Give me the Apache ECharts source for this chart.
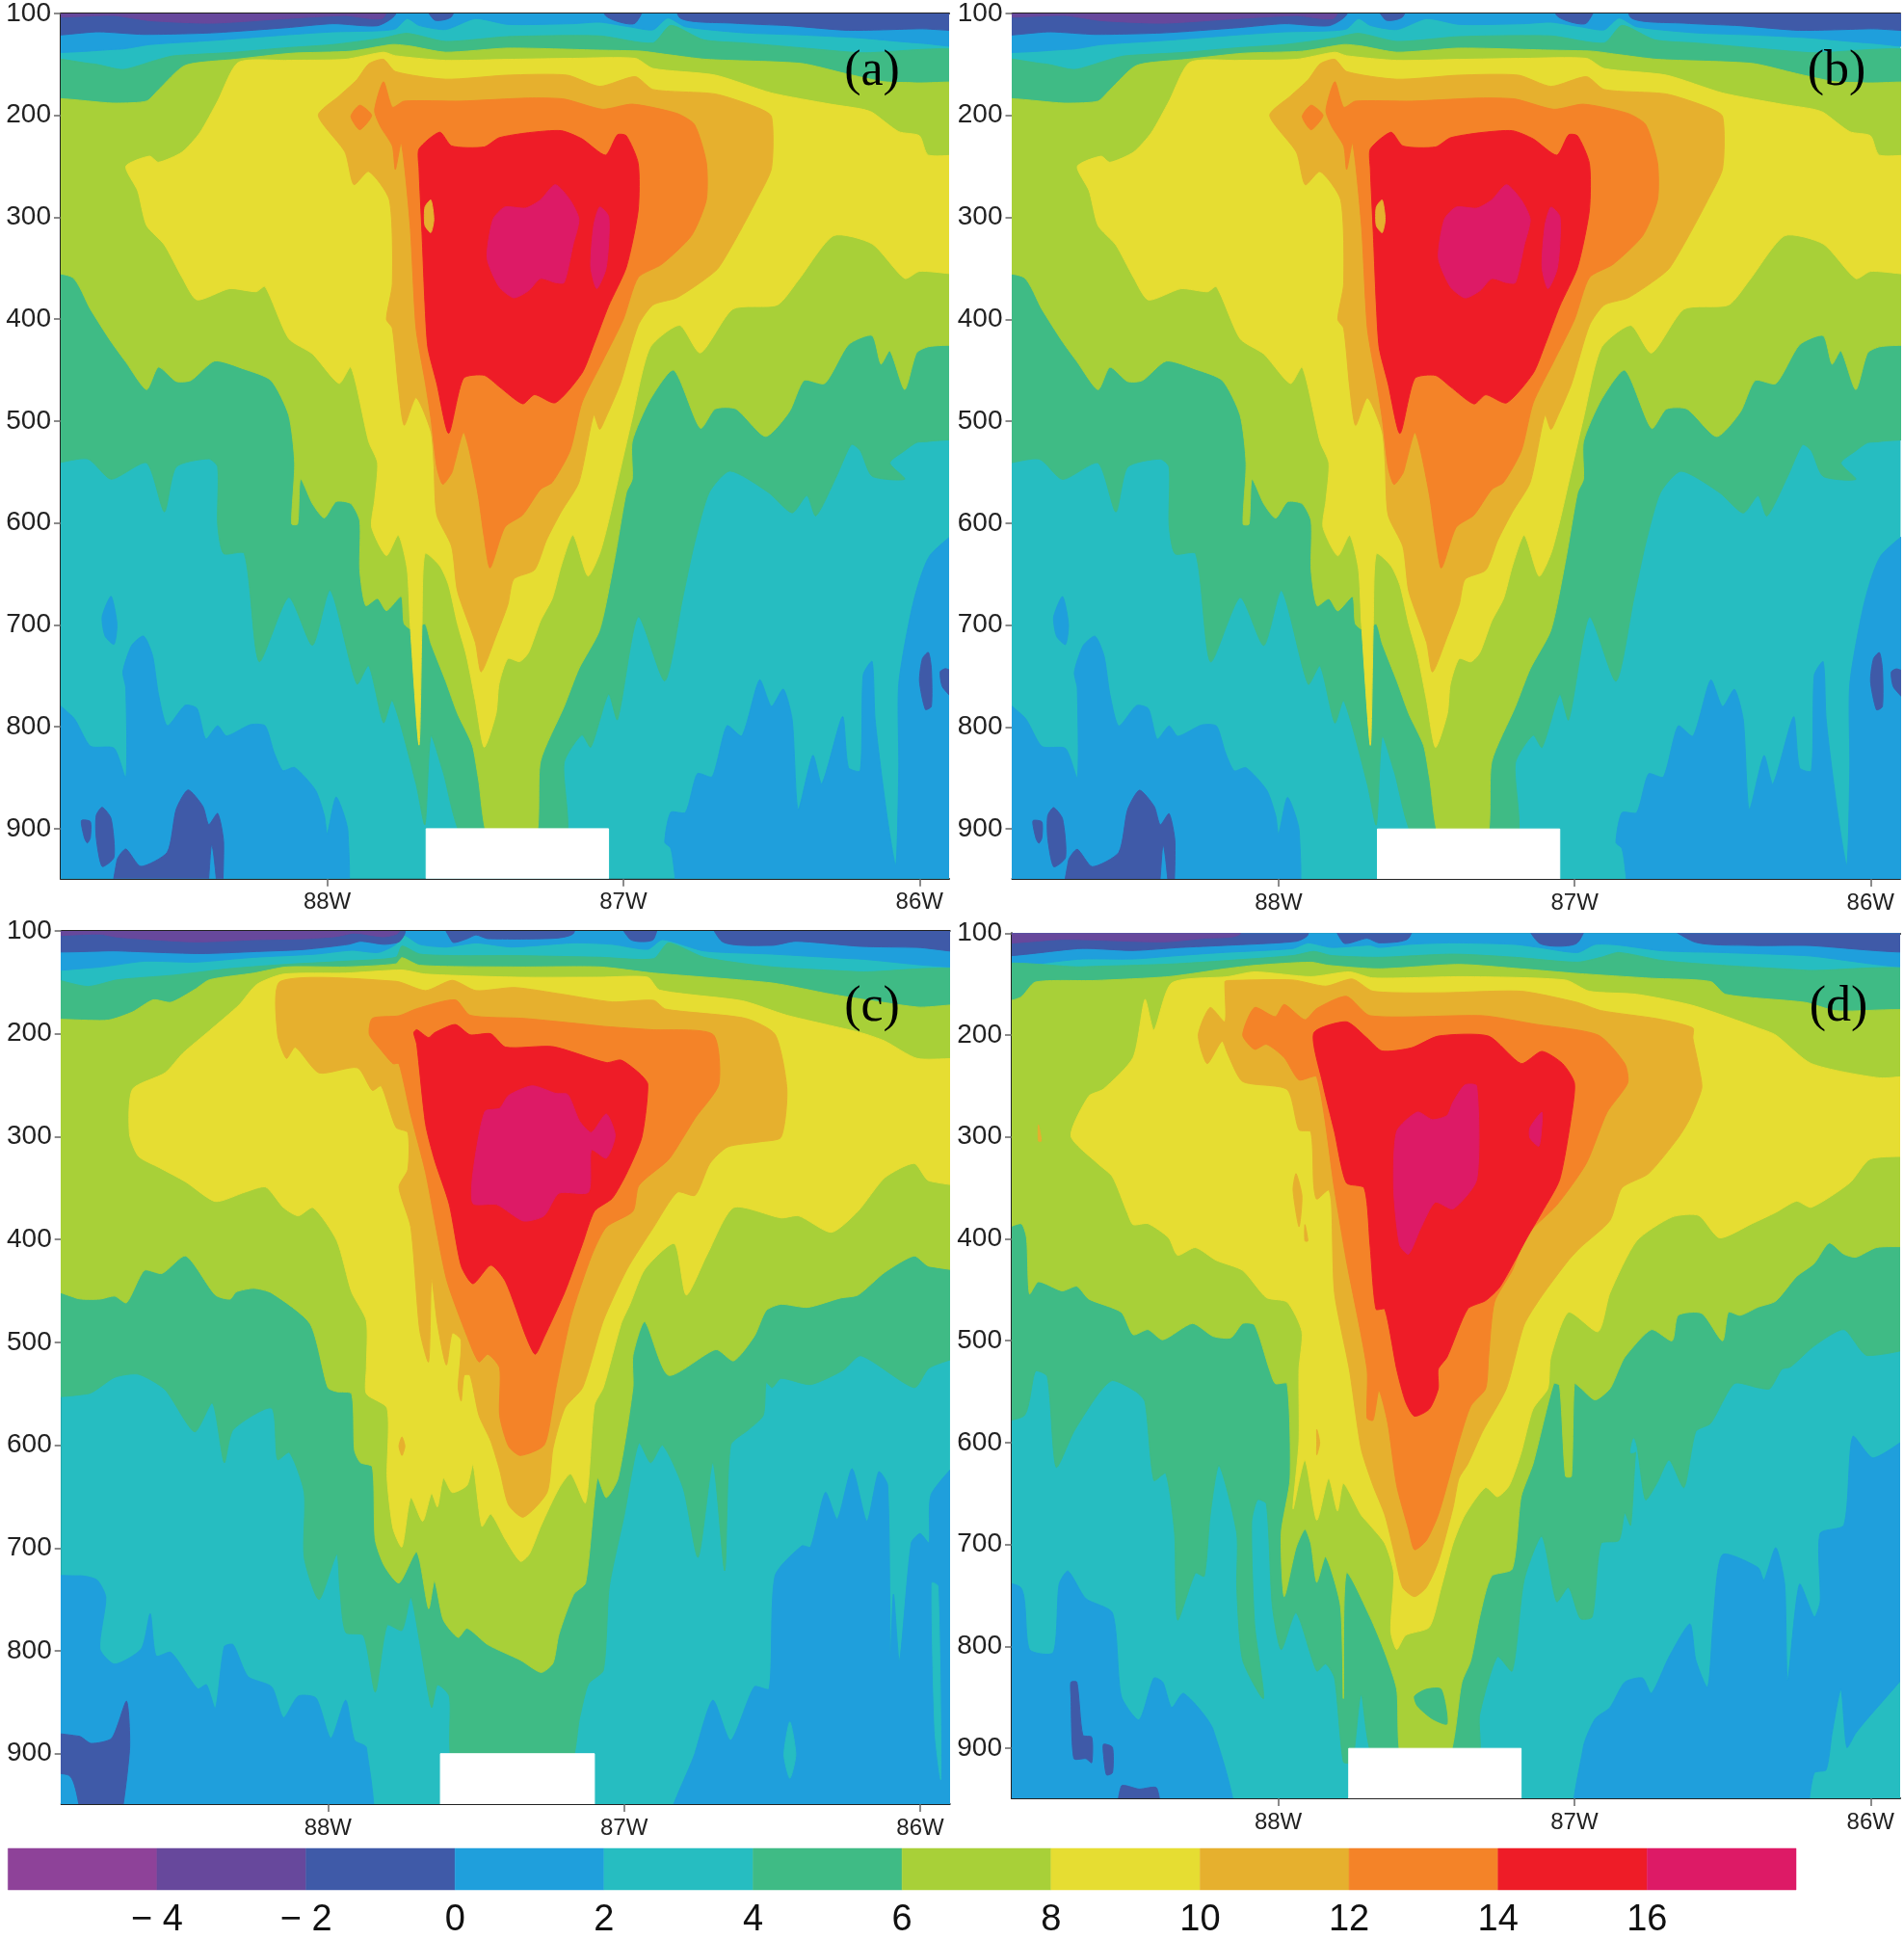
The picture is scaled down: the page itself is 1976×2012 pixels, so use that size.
<!DOCTYPE html>
<html><head><meta charset="utf-8"><style>html,body{margin:0;padding:0;background:#fff}#c{width:1976px;height:2012px}</style>
<script src="https://cdn.jsdelivr.net/npm/echarts@6/dist/echarts.min.js"></script></head><body><div id="c"></div><script>
const lonTicks=[-88,-87,-86];
const pTicks=[100,200,300,400,500,600,700,800,900];
const legendLevels=[-6,-4,-2,0,2,4,6,8,10,12,14,16,18];
const legendTicks=[-4,-2,0,2,4,6,8,10,12,14,16];
const bandColors={'-6':'#8e4299','-4':'#67489c','-2':'#3f5aa8','0':'#1f9fdc','2':'#26bdc1','4':'#3fbb85','6':'#a8d038','8':'#e6dd32','10':'#e6b02e','12':'#f48328','14':'#ee1c27','16':'#dd1a66','99':'#ffffff'};
const panelNames=['(a)','(b)','(c)','(d)'];

// ---------- panels (a) and (b): contour outlines as [longitude, pressure]
const A_purple=[[-88.9,100],[-88.9,101],[-88.72,102],[-88.6,107],[-88.39,109.5],[-88.14,105],[-87.94,102],[-87.81,104],[-87.79,100]];
const A_dark1=[[-88.9,100],[-88.9,119.5],[-88.77,118],[-88.62,120.5],[-88.39,119],[-88.14,114],[-87.98,110],[-87.83,112],[-87.77,101],[-87.75,100]];
const A_dark2=[[-87.72,100],[-87.64,106],[-87.58,103],[-87.54,100]];
const A_dark3=[[-87.09,100],[-87.06,102],[-86.96,109.5],[-86.9,100]];
const A_dark4=[[-86.81,100],[-86.81,104],[-86.63,109.5],[-86.44,112],[-86.24,116.5],[-86,115],[-85.9,114],[-85.9,100]];
const A_blueTop=[[-88.9,100],[-88.9,133.7],[-88.7,135],[-88.6,130.5],[-88.39,126.5],[-88.14,121],[-87.98,118],[-87.83,117],[-87.77,115],[-87.73,105],[-87.69,111.7],[-87.6,115.7],[-87.5,105],[-87.39,110.7],[-87.17,110],[-87.08,108.5],[-86.98,113],[-86.9,116],[-86.85,104.4],[-86.79,113],[-86.59,119],[-86.4,121],[-86.2,124],[-86,129],[-85.9,130.5],[-85.9,100]];
const A_blueLeft=[[-88.9,757],[-88.86,790],[-88.8,819],[-88.72,821],[-88.68,850],[-88.68,762],[-88.69,746],[-88.66,720],[-88.62,711],[-88.59,730],[-88.57,768],[-88.54,799],[-88.48,779],[-88.44,782],[-88.41,812],[-88.37,799],[-88.34,809],[-88.26,798],[-88.21,799],[-88.18,825],[-88.15,843],[-88.11,840],[-88.04,862],[-88.01,887],[-88,905],[-87.97,869],[-87.93,903],[-87.96,949],[-88.9,949]];
const A_blueSpot=[[-88.73,672],[-88.71,699],[-88.72,719],[-88.75,711],[-88.76,692]];
const A_blueRight=[[-86.78,949],[-86.84,919],[-86.86,900],[-86.84,884],[-86.79,884],[-86.75,846],[-86.7,849],[-86.65,799],[-86.6,809],[-86.54,754],[-86.5,780],[-86.46,763],[-86.43,793],[-86.41,881],[-86.36,828],[-86.33,856],[-86.26,790],[-86.24,840],[-86.2,843],[-86.19,749],[-86.16,736],[-86.15,793],[-86.11,887],[-86.08,936],[-86.07,840],[-86.07,758],[-86.02,677],[-85.96,630],[-85.9,595],[-85.9,949]];
const A_darkR1=[[-85.99,733],[-85.97,727],[-85.96,743],[-85.96,780],[-85.98,783],[-86,755]];
const A_darkR2=[[-85.93,746],[-85.91,743],[-85.9,762],[-85.9,803],[-85.92,762]];
const A_darkL1=[[-88.83,892],[-88.8,893],[-88.8,909],[-88.81,914],[-88.82,909]];
const A_darkL2=[[-88.78,887],[-88.76,879],[-88.73,890],[-88.72,928],[-88.76,937],[-88.78,909]];
const A_darkL3=[[-88.72,949],[-88.71,931],[-88.68,920],[-88.63,937],[-88.54,923],[-88.51,881],[-88.47,862],[-88.42,878],[-88.4,896],[-88.37,885],[-88.35,900],[-88.36,949],[-88.39,916],[-88.43,949]];
const A_ge4=[[-88.9,148.5],[-88.79,149.5],[-88.69,155],[-88.58,146],[-88.52,141.6],[-88.33,138.4],[-88.14,133.7],[-87.98,130.5],[-87.81,124],[-87.73,119.5],[-87.6,127.4],[-87.39,122.7],[-87.08,122],[-86.9,129],[-86.84,111.7],[-86.73,125.8],[-86.59,129],[-86.4,133.7],[-86.21,138.4],[-85.9,146],[-85.9,508],[-85.97,520],[-86.01,521],[-86.05,529],[-86.1,541],[-86.05,557],[-86.16,554],[-86.2,529],[-86.23,523],[-86.28,554],[-86.35,593],[-86.38,573],[-86.43,590],[-86.51,570],[-86.64,549],[-86.71,570],[-86.76,620],[-86.8,674],[-86.86,755],[-86.95,692],[-87.02,793],[-87.05,768],[-87.11,820],[-87.14,808],[-87.2,835],[-87.2,900],[-87.53,900],[-87.61,843],[-87.65,809],[-87.67,896],[-87.7,856],[-87.78,774],[-87.81,796],[-87.86,740],[-87.9,758],[-87.99,666],[-88.05,720],[-88.13,673],[-88.23,736],[-88.28,630],[-88.35,630],[-88.37,601],[-88.37,545],[-88.4,537],[-88.51,545],[-88.55,589],[-88.61,541],[-88.73,557],[-88.81,537],[-88.9,541]];
const A_ge6=[[-88.9,189],[-88.71,188],[-88.61,186],[-88.57,175],[-88.48,151],[-88.31,145],[-88.12,139],[-87.92,137],[-87.78,130.5],[-87.72,132],[-87.6,138],[-87.39,134],[-87.08,136],[-86.94,137],[-86.86,140],[-86.72,145],[-86.4,149],[-86.25,159],[-86.12,167],[-86.02,168],[-85.9,175],[-85.9,417],[-85.97,427],[-86.01,433],[-86.05,469],[-86.1,431],[-86.13,444],[-86.16,416],[-86.24,425],[-86.32,463],[-86.39,460],[-86.44,491],[-86.52,515],[-86.62,488],[-86.69,488],[-86.74,507],[-86.83,450],[-86.91,479],[-86.97,520],[-86.97,557],[-86.99,570],[-87.03,636],[-87.08,705],[-87.15,743],[-87.2,780],[-87.28,834],[-87.3,900],[-87.45,900],[-87.49,850],[-87.51,818],[-87.56,787],[-87.6,755],[-87.65,718],[-87.67,699],[-87.71,705],[-87.74,699],[-87.75,672],[-87.8,686],[-87.83,674],[-87.87,681],[-87.89,646],[-87.89,598],[-87.92,581],[-87.97,579],[-88.01,595],[-88.05,581],[-88.09,557],[-88.1,601],[-88.12,601],[-88.11,541],[-88.13,494],[-88.19,460],[-88.28,449],[-88.38,441],[-88.46,460],[-88.51,461],[-88.57,447],[-88.61,469],[-88.68,442],[-88.73,422],[-88.8,390],[-88.86,359],[-88.9,345]];
const A_ge8=[[-88.3,148],[-88.14,146],[-87.94,145],[-87.81,138],[-87.77,141.5],[-87.6,146],[-87.39,145],[-87.17,144],[-86.96,144],[-86.9,154],[-86.69,160.5],[-86.5,178],[-86.3,189],[-86.2,193.5],[-86.16,197],[-86.07,216],[-86,220],[-85.97,239],[-85.9,242],[-85.9,353],[-86,353],[-86.05,360],[-86.16,326],[-86.29,318],[-86.41,362],[-86.48,386],[-86.63,390],[-86.74,433],[-86.81,406],[-86.91,428],[-86.97,497],[-87.02,560],[-87.05,598],[-87.08,630],[-87.12,652],[-87.17,612],[-87.21,642],[-87.24,674],[-87.28,696],[-87.32,727],[-87.35,736],[-87.39,733],[-87.42,758],[-87.43,787],[-87.47,820],[-87.5,774],[-87.53,730],[-87.56,699],[-87.59,661],[-87.62,642],[-87.67,630],[-87.68,699],[-87.69,818],[-87.72,699],[-87.73,645],[-87.76,612],[-87.8,632],[-87.85,604],[-87.84,578],[-87.83,541],[-87.86,520],[-87.92,447],[-87.96,463],[-88.05,434],[-88.13,419],[-88.21,368],[-88.24,373],[-88.33,370],[-88.44,381],[-88.49,359],[-88.55,327],[-88.61,308],[-88.64,274],[-88.68,250],[-88.6,240],[-88.57,246],[-88.49,236],[-88.43,217],[-88.37,186]];
const A_ge10=[[-88.03,200],[-87.96,181],[-87.9,165],[-87.86,149.5],[-87.81,145],[-87.77,157],[-87.6,164.5],[-87.39,160.5],[-87.19,160.5],[-87.08,171.5],[-86.96,162],[-86.9,174.6],[-86.69,179],[-86.55,192],[-86.5,201],[-86.5,252],[-86.55,283],[-86.62,321],[-86.68,350],[-86.73,362],[-86.82,379],[-86.9,386],[-86.95,406],[-87.01,463],[-87.06,497],[-87.08,508],[-87.1,494],[-87.15,560],[-87.21,589],[-87.26,617],[-87.3,646],[-87.37,655],[-87.39,680],[-87.43,711],[-87.48,746],[-87.5,717],[-87.56,667],[-87.58,623],[-87.63,592],[-87.64,541],[-87.65,510],[-87.7,477],[-87.74,504],[-87.76,466],[-87.78,409],[-87.8,400],[-87.78,365],[-87.79,283],[-87.86,255],[-87.91,268],[-87.94,236]];
const A_ge12=[[-87.81,167],[-87.78,192],[-87.74,186],[-87.55,186],[-87.32,183],[-87.2,184],[-87.07,194],[-86.97,189],[-86.82,198],[-86.76,209],[-86.72,246],[-86.72,283],[-86.77,318],[-86.87,346],[-86.95,359],[-87,400],[-87.07,441],[-87.14,482],[-87.18,529],[-87.24,560],[-87.28,567],[-87.34,592],[-87.4,604],[-87.45,644],[-87.47,614],[-87.49,573],[-87.52,529],[-87.54,511],[-87.57,541],[-87.58,551],[-87.61,562],[-87.63,545],[-87.65,497],[-87.67,460],[-87.7,409],[-87.72,308],[-87.75,227],[-87.77,253],[-87.78,230],[-87.82,211],[-87.84,195]];
const A_ge12Spot=[[-87.92,201],[-87.89,190],[-87.85,200],[-87.89,214]];
const A_ge14=[[-87.69,233],[-87.62,216.5],[-87.58,230],[-87.47,231],[-87.42,222],[-87.32,217],[-87.21,215],[-87.14,223],[-87.06,239],[-87.02,219],[-86.99,220],[-86.95,247],[-86.95,293],[-86.99,349],[-87.05,387],[-87.1,425],[-87.14,453],[-87.23,482],[-87.3,474],[-87.34,483],[-87.42,466],[-87.47,455],[-87.54,458],[-87.59,512],[-87.63,463],[-87.66,428],[-87.67,384],[-87.68,315],[-87.69,252]];
const A_ge10Spot=[[-87.67,290],[-87.65,283],[-87.64,302],[-87.65,315],[-87.67,308]];
const A_ge16=[[-87.23,268],[-87.18,283],[-87.15,302],[-87.17,327],[-87.2,364],[-87.23,364],[-87.28,360],[-87.32,372],[-87.37,379],[-87.42,368],[-87.46,340],[-87.44,302],[-87.4,290],[-87.33,291],[-87.28,283]];
const A_ge16Side=[[-87.08,290],[-87.05,299],[-87.05,327],[-87.06,352],[-87.09,370],[-87.11,349],[-87.1,308]];
const A_terrain=[[-87.666,900],[-87.05,900],[-87.05,949],[-87.666,949]];

// ---------- panel (c)
const C_purple=[[-88.9,100],[-88.9,102],[-88.77,103],[-88.71,106],[-88.45,110.6],[-88.24,108.4],[-88.08,107.5],[-87.97,105.3],[-87.91,102],[-87.81,105.6],[-87.76,101],[-87.76,100]];
const C_dark1=[[-88.9,100],[-88.9,116],[-88.71,119.4],[-88.43,122],[-88.24,120],[-88.08,118],[-87.93,113],[-87.89,110],[-87.81,113],[-87.76,110.6],[-87.74,102],[-87.73,100]];
const C_dark2=[[-87.64,100],[-87.58,110.6],[-87.53,107.5],[-87.5,103.8],[-87.46,107.5],[-87.23,107],[-87.17,102],[-87.15,100]];
const C_dark3=[[-87.06,100],[-86.98,108],[-86.9,108],[-86.88,100]];
const C_dark4=[[-86.73,100],[-86.67,110],[-86.5,114],[-86.42,110],[-86.2,115],[-86.01,116],[-85.9,119],[-85.9,100]];
const C_blueTop=[[-88.9,100],[-88.9,135],[-88.79,135.6],[-88.62,129.4],[-88.45,130.3],[-88.25,125.6],[-88.04,122.5],[-87.92,118.8],[-87.83,120.9],[-87.77,113],[-87.75,103],[-87.69,113],[-87.6,115.6],[-87.5,111.6],[-87.38,115.6],[-87.17,111.6],[-87.04,113],[-86.92,117.8],[-86.87,108.4],[-86.73,119.4],[-86.5,122.5],[-86.21,127.2],[-85.9,132],[-85.9,100]];
const C_blueLeft=[[-88.9,734],[-88.84,727],[-88.78,731],[-88.75,748],[-88.77,798],[-88.72,813],[-88.63,798],[-88.6,764],[-88.58,805],[-88.53,801.5],[-88.44,837],[-88.41,833],[-88.38,856],[-88.35,796],[-88.32,794],[-88.27,825],[-88.19,835],[-88.15,865],[-88.1,844],[-88.04,846],[-87.99,885],[-87.94,848],[-87.91,887],[-87.87,894],[-87.87,949],[-88.9,949]];
const C_darkLeft=[[-88.9,881],[-88.84,883],[-88.8,890],[-88.73,885],[-88.68,849],[-88.67,897],[-88.72,949],[-88.81,949],[-88.87,922],[-88.9,918]];
const C_blueRight=[[-86.85,949],[-86.76,899],[-86.7,848],[-86.64,887],[-86.56,835],[-86.51,837],[-86.49,727],[-86.4,698],[-86.37,699],[-86.32,646],[-86.28,672],[-86.23,623],[-86.18,674],[-86.14,626],[-86.11,639],[-86.1,805],[-86.09,745],[-86.07,810],[-86.03,695],[-86,686],[-85.97,695],[-85.96,646],[-85.9,596],[-85.9,949]];
const C_tealSlit=[[-85.96,734],[-85.94,737],[-85.93,925],[-85.95,879]];
const C_tealIsland=[[-86.44,869],[-86.42,901],[-86.44,924],[-86.46,901]];
const C_ge4=[[-88.9,147],[-88.81,154],[-88.71,147.5],[-88.52,143],[-88.33,136.6],[-88.14,132.5],[-87.94,129.4],[-87.77,125.6],[-87.75,114.7],[-87.69,122.5],[-87.56,124],[-87.37,124],[-87.08,125.6],[-86.9,127],[-86.85,111.6],[-86.73,125.6],[-86.5,135],[-86.21,139.7],[-85.9,147.5],[-85.9,497],[-85.97,525],[-86.02,544],[-86.2,513],[-86.26,527],[-86.37,541],[-86.47,535],[-86.5,544],[-86.52,539],[-86.53,571],[-86.58,585],[-86.64,600],[-86.66,722],[-86.7,617],[-86.75,709],[-86.8,642],[-86.87,600],[-86.91,617],[-86.95,598],[-87,669],[-87.05,738],[-87.07,819],[-87.12,832],[-87.15,865],[-87.19,900],[-87.57,900],[-87.59,844],[-87.63,833],[-87.65,855],[-87.69,791],[-87.72,748],[-87.75,780],[-87.8,775],[-87.84,840],[-87.88,785],[-87.94,782],[-87.96,738],[-87.97,706],[-88.03,750],[-88.08,709],[-88.08,646],[-88.13,607],[-88.17,614],[-88.19,564],[-88.32,585],[-88.35,617],[-88.39,559],[-88.45,587],[-88.55,546],[-88.64,531],[-88.72,534],[-88.81,550],[-88.9,546]];
const C_ge6=[[-88.9,194],[-88.74,186.6],[-88.66,178.8],[-88.59,167],[-88.53,169.4],[-88.45,157],[-88.4,147.5],[-88.25,141],[-88.14,135],[-87.94,135],[-87.77,132],[-87.75,126],[-87.69,133.4],[-87.36,135],[-87.08,135],[-86.9,141],[-86.5,150.6],[-86.3,161.6],[-86.01,174],[-85.9,177],[-85.9,426],[-85.97,426],[-86.02,416],[-86.12,432],[-86.21,454],[-86.27,457],[-86.38,466],[-86.47,463],[-86.52,469],[-86.56,494],[-86.63,518],[-86.69,507],[-86.85,532],[-86.93,480],[-86.97,513],[-86.97,544],[-87.02,632],[-87.06,651],[-87.09,632],[-87.13,734],[-87.17,745],[-87.22,784],[-87.24,812],[-87.28,821],[-87.35,809],[-87.46,794],[-87.53,778],[-87.56,787],[-87.61,770],[-87.64,732],[-87.66,759],[-87.7,704],[-87.76,734],[-87.81,717],[-87.84,692],[-87.85,621],[-87.89,617],[-87.91,605],[-87.92,550],[-87.97,548],[-88,544],[-88.06,482],[-88.19,452],[-88.25,447.5],[-88.31,451],[-88.33,458],[-88.38,454],[-88.48,416],[-88.56,433],[-88.62,430],[-88.68,461.5],[-88.72,455],[-88.77,458],[-88.85,457],[-88.9,430]];
const C_ge8=[[-88.4,197],[-88.3,172],[-88.24,152],[-88.15,142],[-87.94,141],[-87.75,138],[-87.67,142],[-87.36,145],[-87.08,145],[-86.92,145],[-86.88,157.5],[-86.6,168],[-86.45,182],[-86.2,199],[-86.12,207],[-86.01,224],[-85.9,229],[-85.9,344],[-85.97,343],[-86.02,326],[-86.12,340],[-86.21,372.5],[-86.3,393],[-86.41,377],[-86.47,379],[-86.63,369],[-86.72,415],[-86.79,454],[-86.83,404],[-86.93,429],[-86.98,463],[-87.01,482],[-87.07,544],[-87.1,561],[-87.13,656],[-87.18,628],[-87.22,642],[-87.28,678],[-87.32,706],[-87.35,713],[-87.4,692],[-87.45,667],[-87.48,679],[-87.51,619],[-87.53,639],[-87.58,646],[-87.61,632],[-87.63,660],[-87.65,647],[-87.68,674],[-87.72,651],[-87.75,699],[-87.78,681],[-87.8,632],[-87.8,564],[-87.87,550],[-87.87,525],[-87.87,479],[-87.92,451],[-87.97,401],[-88.05,369],[-88.1,377],[-88.15,369],[-88.21,349],[-88.28,354],[-88.38,363],[-88.48,344],[-88.57,330],[-88.64,319],[-88.67,297.5],[-88.66,254],[-88.55,238],[-88.49,219]];
const C_ge10Spot=[[-87.75,592],[-87.74,601],[-87.75,610],[-87.76,601]];
const C_ge10=[[-88.16,149],[-87.77,149],[-87.67,158],[-87.58,148],[-87.5,158],[-87.37,155],[-87.21,161.5],[-87.04,169],[-86.9,167.5],[-86.86,176],[-86.59,185],[-86.49,200.6],[-86.45,254],[-86.47,300.6],[-86.54,305],[-86.65,310],[-86.71,326],[-86.76,357],[-86.82,354],[-86.9,388],[-86.99,429],[-87.07,479],[-87.14,544],[-87.2,564],[-87.24,603],[-87.26,646],[-87.34,670],[-87.39,658],[-87.42,624],[-87.45,596],[-87.49,571],[-87.52,532],[-87.54,532],[-87.55,557],[-87.56,544],[-87.55,498],[-87.58,491],[-87.6,522],[-87.63,482],[-87.65,438],[-87.66,519],[-87.69,488],[-87.72,388],[-87.76,349],[-87.73,332],[-87.73,296],[-87.77,291],[-87.82,250.6],[-87.85,255],[-87.9,233],[-88.03,238],[-88.11,213],[-88.14,224],[-88.17,200.6]];
const C_ge12=[[-87.86,200.6],[-87.85,185],[-87.76,182.5],[-87.7,175.6],[-87.57,167],[-87.52,182],[-87.34,185],[-87.16,190],[-87.06,193],[-86.91,196],[-86.7,200.6],[-86.68,249],[-86.76,282],[-86.8,300.6],[-86.85,322.5],[-86.95,347.5],[-86.97,372.5],[-87.06,388],[-87.11,416],[-87.18,476],[-87.23,544],[-87.24,561],[-87.27,600],[-87.35,610],[-87.39,601],[-87.42,571],[-87.42,525],[-87.46,511.6],[-87.49,519],[-87.53,494],[-87.6,438],[-87.67,335],[-87.72,279],[-87.76,229],[-87.78,229],[-87.82,216]];
const C_ge14=[[-87.71,199],[-87.7,196],[-87.66,203.75],[-87.64,199],[-87.57,191],[-87.52,201],[-87.45,200],[-87.4,213],[-87.24,212.5],[-87.06,228],[-87.01,225.6],[-86.95,238],[-86.92,249],[-86.94,300.6],[-86.99,335],[-87.04,360],[-87.1,372.5],[-87.14,404],[-87.2,451],[-87.27,495],[-87.3,511.6],[-87.33,495],[-87.4,441],[-87.45,425],[-87.51,443],[-87.55,425.6],[-87.59,366],[-87.64,322.5],[-87.67,288],[-87.7,210]];
const C_ge16=[[-87.31,250.6],[-87.23,258],[-87.19,259],[-87.15,285],[-87.11,296],[-87.06,278],[-87.03,299],[-87.06,321],[-87.11,313],[-87.12,354],[-87.22,355],[-87.27,377],[-87.34,382],[-87.43,366],[-87.51,365],[-87.51,335],[-87.47,275.6],[-87.42,272.5],[-87.39,260]];
const C_terrain=[[-87.62,900],[-87.1,900],[-87.1,949],[-87.62,949]];

// ---------- panel (d)
const D_purple=[[-88.9,100],[-88.9,108],[-88.72,106],[-88.39,108.5],[-88.25,105],[-88.13,101],[-88.1,100]];
const D_dark1=[[-88.9,100],[-88.9,120.6],[-88.66,115],[-88.49,117],[-88.33,114],[-88.18,112],[-87.94,108],[-87.9,101.6],[-87.89,100]];
const D_dark2=[[-87.84,100],[-87.78,109.5],[-87.7,105],[-87.66,109.5],[-87.56,105],[-87.53,100]];
const D_dark3=[[-87.2,100],[-87.12,109.5],[-86.99,109.5],[-86.94,100]];
const D_dark4=[[-86.81,100],[-86.6,108],[-86.41,112],[-86.22,112],[-85.9,116],[-85.9,100]];
const D_blueTop=[[-88.9,100],[-88.9,130.7],[-88.66,125.3],[-88.49,125.3],[-88.34,122],[-88.19,119],[-87.95,115],[-87.9,109.5],[-87.82,114],[-87.69,111.7],[-87.66,114],[-87.56,111],[-87.41,109.5],[-87.2,111],[-87.12,114],[-86.99,119],[-86.93,111],[-86.85,111.7],[-86.7,117.4],[-86.5,119],[-86.22,122],[-85.9,131.6],[-85.9,100]];
const D_blueLeft=[[-88.9,742],[-88.87,742],[-88.84,803],[-88.76,806],[-88.74,739],[-88.71,726],[-88.65,753],[-88.56,767],[-88.53,849],[-88.47,872],[-88.42,831],[-88.39,835],[-88.36,860],[-88.32,846],[-88.22,881.5],[-88.16,949],[-88.9,949]];
const D_darkL1=[[-88.7,835],[-88.68,835],[-88.66,887],[-88.63,889],[-88.63,914],[-88.65,910],[-88.69,910],[-88.7,849]];
const D_darkL2=[[-88.59,896],[-88.56,899],[-88.56,924],[-88.58,926],[-88.59,906]];
const D_darkL3=[[-88.54,949],[-88.53,937],[-88.47,940],[-88.41,939],[-88.4,949]];
const D_blueRight=[[-86.99,949],[-86.97,899],[-86.93,871],[-86.88,860],[-86.83,835],[-86.77,831],[-86.74,846],[-86.68,810],[-86.61,778],[-86.59,813.5],[-86.55,840],[-86.53,771],[-86.5,710],[-86.38,722.5],[-86.36,735],[-86.32,703],[-86.29,739],[-86.28,833],[-86.24,739],[-86.19,771],[-86.17,756],[-86.17,689],[-86.09,681],[-86.06,594],[-85.99,615],[-85.9,581],[-85.9,778],[-86.05,885],[-86.08,899],[-86.1,842],[-86.13,885],[-86.15,921],[-86.19,924],[-86.25,949]];
const D_ge4=[[-88.9,139.6],[-88.66,133],[-88.49,131.6],[-88.34,130],[-88.18,127],[-87.95,122],[-87.88,118],[-87.82,122],[-87.66,123.7],[-87.41,120.6],[-87.2,123.7],[-86.99,128.5],[-86.91,123.7],[-86.85,119],[-86.7,127],[-86.5,131.6],[-86.22,136.4],[-85.9,146],[-85.9,491],[-86.01,514.5],[-86.09,489],[-86.19,505],[-86.27,525.6],[-86.3,528],[-86.34,547],[-86.38,546],[-86.46,542],[-86.54,581],[-86.59,589],[-86.63,644],[-86.68,617],[-86.72,639],[-86.76,656],[-86.79,603],[-86.81,681],[-86.83,669],[-86.85,696],[-86.91,699],[-86.94,771],[-86.98,772.5],[-87.02,742],[-87.06,756],[-87.11,692],[-87.17,735],[-87.21,824],[-87.26,810],[-87.32,867],[-87.33,900],[-87.67,900],[-87.72,847.5],[-87.75,900],[-87.78,900],[-87.81,831],[-87.84,817],[-87.87,824],[-87.94,767],[-87.99,803],[-88.02,760],[-88.04,660],[-88.07,656],[-88.09,678],[-88.08,778],[-88.05,851],[-88.12,813.5],[-88.14,742],[-88.14,689],[-88.2,622.5],[-88.23,671],[-88.25,731],[-88.28,728],[-88.34,774],[-88.35,689],[-88.38,630],[-88.42,637],[-88.45,560],[-88.48,550],[-88.56,539],[-88.61,553],[-88.69,589],[-88.75,624],[-88.78,535],[-88.82,530],[-88.86,574],[-88.9,574]];
const D_tealIsland=[[-86.8,596],[-86.79,608],[-86.81,610]];
const D_ge6=[[-88.9,180.7],[-88.87,163],[-88.82,148],[-88.62,146.5],[-88.37,142.7],[-88.18,135],[-88.08,131.6],[-87.89,128.5],[-87.83,131.6],[-87.66,135],[-87.39,130.7],[-87.18,135],[-86.99,139.6],[-86.74,144.3],[-86.54,147.5],[-86.49,160],[-86.22,168],[-86.12,176],[-85.9,184],[-85.9,400.6],[-85.98,408.5],[-86.05,418],[-86.09,415],[-86.14,404],[-86.19,424],[-86.25,437],[-86.32,461],[-86.38,467],[-86.44,475],[-86.48,472],[-86.5,500],[-86.57,473],[-86.65,475],[-86.67,500],[-86.74,489],[-86.83,516],[-86.85,528],[-86.88,547],[-86.93,558],[-86.98,546],[-87,542],[-87.01,633],[-87.03,633],[-87.05,544],[-87.07,542],[-87.14,621],[-87.18,653],[-87.21,724],[-87.28,731],[-87.32,771],[-87.35,814],[-87.38,835],[-87.43,900],[-87.58,900],[-87.6,842],[-87.64,806],[-87.69,771],[-87.77,728],[-87.78,851],[-87.79,760],[-87.84,712],[-87.87,737],[-87.89,699],[-87.91,685],[-87.94,703],[-87.98,751],[-87.99,689],[-87.96,635],[-87.97,542],[-88.01,542],[-88.03,528],[-88.08,484.5],[-88.12,483],[-88.16,497],[-88.22,495.6],[-88.29,483],[-88.39,499],[-88.44,489],[-88.49,494],[-88.53,472],[-88.64,459],[-88.68,446.5],[-88.73,451],[-88.81,442],[-88.84,454],[-88.85,399],[-88.87,385],[-88.9,399]];
const D_greenIsland=[[-87.54,849],[-87.5,842],[-87.45,842],[-87.43,876],[-87.48,871],[-87.53,858.5]];
const D_ge8=[[-88.36,149],[-88.17,142.7],[-88.08,138],[-87.89,142.7],[-87.76,138],[-87.68,144],[-87.37,142.7],[-87.03,146],[-86.95,157],[-86.79,160],[-86.6,171],[-86.38,193],[-86.32,200],[-86.2,228],[-85.97,242],[-85.9,242],[-85.9,313.6],[-86,321.5],[-86.07,345],[-86.2,369],[-86.25,363],[-86.32,374],[-86.4,385],[-86.51,399],[-86.58,377],[-86.67,378.5],[-86.79,402],[-86.88,453],[-86.92,491],[-87.02,472],[-87.08,516],[-87.09,547],[-87.14,567],[-87.18,610],[-87.22,642],[-87.26,653],[-87.3,644],[-87.37,671],[-87.41,699],[-87.45,742],[-87.49,781],[-87.57,789],[-87.6,803],[-87.62,785],[-87.61,728],[-87.64,699],[-87.69,681],[-87.72,671],[-87.78,640],[-87.8,667],[-87.83,635],[-87.87,676],[-87.91,617],[-87.95,665],[-87.93,599],[-87.93,528],[-87.92,491],[-87.97,462],[-88.04,457.6],[-88.12,431],[-88.21,421],[-88.28,408.5],[-88.34,416],[-88.37,399],[-88.44,385],[-88.49,386],[-88.51,374],[-88.56,339],[-88.61,326],[-88.7,299],[-88.64,260],[-88.59,253],[-88.49,222],[-88.45,165],[-88.42,195]];
const D_spot1=[[-87.94,336],[-87.92,358],[-87.93,388],[-87.95,352]];
const D_spot2=[[-87.91,386],[-87.9,402],[-87.91,402]];
const D_spot3=[[-88.81,288],[-88.8,304],[-88.81,304]];
const D_spot4=[[-87.87,587],[-87.86,600],[-87.87,612],[-87.87,600]];
const D_ge10=[[-88.17,146.5],[-87.95,146],[-87.84,152],[-87.75,145],[-87.68,157],[-87.45,158.5],[-87.18,157],[-86.99,168],[-86.91,176],[-86.72,184],[-86.6,193],[-86.6,203],[-86.58,231],[-86.57,252],[-86.61,282],[-86.65,301],[-86.75,336],[-86.84,350],[-86.88,382],[-86.98,408.5],[-87.02,421],[-87.11,456],[-87.17,484.5],[-87.23,547],[-87.31,589],[-87.36,621],[-87.39,635],[-87.41,664],[-87.46,717],[-87.5,742],[-87.54,751],[-87.58,742],[-87.61,706],[-87.64,671],[-87.68,642],[-87.72,606],[-87.76,528],[-87.81,453],[-87.82,367],[-87.83,352],[-87.87,361],[-87.88,348],[-87.89,295],[-87.93,293],[-87.97,253.5],[-88.12,245.6],[-88.17,219],[-88.19,206],[-88.24,228],[-88.27,200],[-88.23,173],[-88.18,187],[-88.18,147.5]];
const D_ge12=[[-88.12,200],[-88.08,173],[-88.01,182],[-87.98,170],[-87.91,185],[-87.87,174],[-87.77,162],[-87.69,181],[-87.31,181],[-87.14,189],[-86.92,200],[-86.83,228],[-86.82,247],[-86.89,276],[-86.96,326],[-87.06,367],[-87.16,396],[-87.21,431],[-87.27,462],[-87.29,516],[-87.3,547],[-87.35,564],[-87.39,599],[-87.42,631],[-87.46,671],[-87.5,696],[-87.54,705],[-87.56,685],[-87.6,642],[-87.63,581],[-87.66,549],[-87.68,578],[-87.7,576],[-87.7,528],[-87.77,421],[-87.81,351.6],[-87.87,241],[-87.93,244],[-87.98,222],[-88.04,209],[-88.08,214]];
const D_ge14=[[-87.88,198],[-87.77,187],[-87.7,203],[-87.65,215.6],[-87.55,212.5],[-87.46,201],[-87.29,201],[-87.18,228],[-87.11,216],[-87.04,228],[-87,247],[-87.01,279],[-87.05,342],[-87.11,374],[-87.16,399],[-87.25,446.5],[-87.3,460.6],[-87.36,468.6],[-87.43,516],[-87.46,528],[-87.46,547],[-87.49,567],[-87.54,574],[-87.57,560],[-87.6,528],[-87.64,469],[-87.67,469],[-87.69,406],[-87.71,350],[-87.77,345],[-87.81,295],[-87.85,247]];
const D_ge16=[[-87.37,249],[-87.33,250],[-87.33,342],[-87.41,370.6],[-87.47,364],[-87.52,390],[-87.56,415],[-87.59,406],[-87.61,351.6],[-87.6,294.6],[-87.53,275.6],[-87.48,283],[-87.43,279],[-87.41,266]];
const D_ge16Side=[[-87.11,275.6],[-87.11,288],[-87.12,309],[-87.15,301],[-87.15,291]];
const D_terrain=[[-87.762,900],[-87.18,900],[-87.18,949],[-87.762,949]];

const LON_MIN=-88.9,LON_MAX=-85.9,P_MIN=100,P_MAX=949,P_SURFACE=900;
const base=[[LON_MIN,P_MIN],[LON_MAX,P_MIN],[LON_MAX,P_MAX],[LON_MIN,P_MAX]];
// paint order: [band lower bound, outline]
const layersA=[[2,base],[0,A_blueTop],[-2,A_dark1],[-2,A_dark2],[-2,A_dark3],[-2,A_dark4],[-4,A_purple],[0,A_blueLeft],[0,A_blueSpot],[0,A_blueRight],[-2,A_darkR1],[-2,A_darkR2],[-2,A_darkL1],[-2,A_darkL2],[-2,A_darkL3],[4,A_ge4],[6,A_ge6],[8,A_ge8],[10,A_ge10],[12,A_ge12],[12,A_ge12Spot],[14,A_ge14],[10,A_ge10Spot],[16,A_ge16],[16,A_ge16Side],[99,A_terrain]];
const layersC=[[2,base],[0,C_blueTop],[-2,C_dark1],[-2,C_dark2],[-2,C_dark3],[-2,C_dark4],[-4,C_purple],[0,C_blueLeft],[-2,C_darkLeft],[0,C_blueRight],[2,C_tealSlit],[2,C_tealIsland],[4,C_ge4],[6,C_ge6],[8,C_ge8],[10,C_ge10Spot],[10,C_ge10],[12,C_ge12],[14,C_ge14],[16,C_ge16],[99,C_terrain]];
const layersD=[[2,base],[0,D_blueTop],[-2,D_dark1],[-2,D_dark2],[-2,D_dark3],[-2,D_dark4],[-4,D_purple],[0,D_blueLeft],[-2,D_darkL1],[-2,D_darkL2],[-2,D_darkL3],[0,D_blueRight],[4,D_ge4],[2,D_tealIsland],[6,D_ge6],[4,D_greenIsland],[8,D_ge8],[10,D_spot1],[10,D_spot2],[10,D_spot3],[10,D_spot4],[10,D_ge10],[12,D_ge12],[14,D_ge14],[16,D_ge16],[16,D_ge16Side],[99,D_terrain]];

const panels=[
 {layers:layersA,left:63,top:12.7,width:922,height:899,lx:905,ly:74},
 {layers:layersA,left:1050.5,top:13,width:921.5,height:899,lx:1906,ly:74},
 {layers:layersC,left:63.7,top:966,width:922,height:906,lx:905,ly:1045},
 {layers:layersD,left:1050,top:968.3,width:922,height:897.7,lx:1908,ly:1045}
];
const fontLabel='"Liberation Sans",sans-serif';
const grid=[],xAxis=[],yAxis=[],series=[],graphic=[];
// outline points on the frame or on the surface line are pushed outward so that rounding the curve never exposes the layer below
function outline(pts,api){
 return pts.map(p=>{const c=api.coord(p);
  if(p[0]<=LON_MIN)c[0]-=40; if(p[0]>=LON_MAX)c[0]+=40;
  if(p[1]<=P_MIN)c[1]-=40; if(p[1]>=P_MAX)c[1]+=40; if(p[1]===P_SURFACE)c[1]+=14;
  return c;});
}
panels.forEach((pn,i)=>{
 grid.push({left:pn.left,top:pn.top,width:pn.width,height:pn.height});
 xAxis.push({type:'value',gridIndex:i,min:LON_MIN,max:LON_MAX,position:'bottom',splitLine:{show:false},
  axisLine:{show:true,onZero:false,lineStyle:{color:'#222',width:2}},
  axisTick:{show:true,length:8,customValues:lonTicks,lineStyle:{color:'#666',width:1.5}},
  axisLabel:{show:true,customValues:lonTicks,margin:13,fontFamily:fontLabel,fontSize:24,color:'#222',formatter:v=>Math.abs(v)+'W'}});
 xAxis.push({type:'value',gridIndex:i,min:LON_MIN,max:LON_MAX,position:'top',splitLine:{show:false},
  axisLine:{show:true,onZero:false,lineStyle:{color:'#222',width:2}},axisTick:{show:false},axisLabel:{show:false}});
 yAxis.push({type:'value',gridIndex:i,min:P_MIN,max:P_MAX,inverse:true,splitLine:{show:false},
  axisLine:{show:true,onZero:false,lineStyle:{color:'#222',width:2}},
  axisTick:{show:true,length:7,customValues:pTicks,lineStyle:{color:'#666',width:1.5}},
  axisLabel:{show:true,customValues:pTicks,margin:10,fontFamily:fontLabel,fontSize:28,color:'#222'}});
 const ls=pn.layers;
 series.push({type:'custom',coordinateSystem:'cartesian2d',xAxisIndex:2*i,yAxisIndex:i,clip:true,silent:true,animation:false,z:2,
  data:ls.map(l=>[l[0]]),
  renderItem:(params,api)=>{const l=ls[params.dataIndex];const c=bandColors[l[0]];
   const flat=l[1]===base||l[0]===99;
   return {type:'polygon',shape:flat?{points:l[1].map(p=>api.coord(p))}:{points:outline(l[1],api),smooth:0.22},style:{fill:c,stroke:c,lineWidth:1}};}});
 graphic.push({type:'text',z:10,x:pn.lx,y:pn.ly,style:{text:panelNames[i],fontFamily:'"Liberation Serif",serif',fontSize:52,fill:'#000',textAlign:'center',textVerticalAlign:'middle'}});
});
// colour bar
const bars=legendLevels.slice(0,-1).map((v,i)=>[v,legendLevels[i+1]]);
grid.push({left:8.3,top:1918,width:1855.7,height:48});
xAxis.push({type:'value',gridIndex:4,min:-6,max:18,interval:2,splitLine:{show:false},axisLine:{show:false},axisTick:{show:false},
 axisLabel:{show:true,customValues:legendTicks,margin:13,fontFamily:fontLabel,fontSize:38,color:'#111',formatter:v=>String(v).replace('-','\u2212 ')}});
yAxis.push({type:'value',gridIndex:4,min:0,max:1,show:false});
series.push({type:'custom',coordinateSystem:'cartesian2d',xAxisIndex:8,yAxisIndex:4,silent:true,animation:false,data:bars,
 renderItem:(params,api)=>{const a=api.coord([api.value(0),1]),b=api.coord([api.value(1),0]);const c=bandColors[api.value(0)];
  return {type:'rect',shape:{x:a[0],y:a[1],width:b[0]-a[0],height:b[1]-a[1]},style:{fill:c,stroke:c,lineWidth:0.5}};}});
const chart=echarts.init(document.getElementById('c'),null,{renderer:'canvas'});
chart.setOption({backgroundColor:'#fff',animation:false,grid,xAxis,yAxis,series,graphic});
</script></body></html>
